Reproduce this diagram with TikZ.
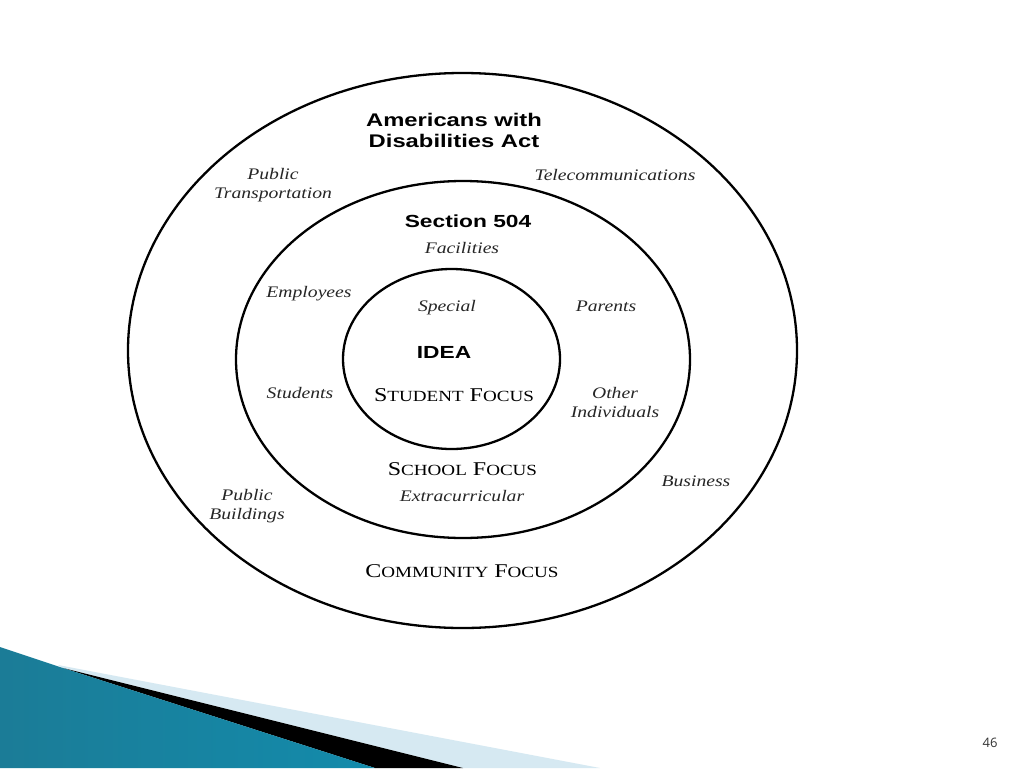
\documentclass[tikz,border=0pt]{standalone}
\usepackage{fontspec}
\usepackage{tikz}
\usetikzlibrary{shapes,positioning}
\newfontfamily\headfont[FakeStretch=1.3]{Liberation Sans}
\newfontfamily\itemfont[FakeStretch=1.22]{Liberation Serif}
\newfontfamily\focusfont[FakeStretch=1.23]{Liberation Serif}
\newfontfamily\pagefont{Open Sans}
\newcommand{\smallcap}[1]{{\fontsize{15.5}{20}\selectfont #1}}
\definecolor{tealdark}{HTML}{1B7C97}
\definecolor{teallight}{HTML}{42ACCB}
\definecolor{tealright}{HTML}{138BAB}
\definecolor{swoosh}{HTML}{D6E9F2}
\tikzstyle{ring} = [ellipse, draw, line width=2.3pt, inner sep=0pt]
\tikzstyle{law} = [font=\headfont\bfseries\fontsize{17.5}{21}\selectfont,
    align=center, anchor=base, inner sep=0pt]
\tikzstyle{group} = [font=\itemfont\itshape\fontsize{16.1}{19}\selectfont,
    text=black!85, align=center, anchor=base, inner sep=0pt]
\tikzstyle{focus} = [font=\focusfont\fontsize{19.5}{20}\selectfont,
    anchor=base, inner sep=0pt]
\begin{document}
\begin{tikzpicture}[x=1pt, y=-1pt]
  \useasboundingbox (0,0) rectangle (1024,768);
  \fill[white] (0,0) rectangle (1024,768);
  % Slide corner
  \fill[swoosh] (58,665) -- (600,768) -- (463,768) -- (63,668) -- cycle;
  \fill[black] (63,668) -- (463,768) -- (375,768) -- cycle;
  \shade[left color=tealdark, middle color=teallight, right color=tealright]
    (0,647) -- (63,668) -- (375,768) -- (0,768) -- cycle;
  % Place rings
  \node [ring, minimum width=669, minimum height=555] (adaring) at (462.5,350.5) {};
  \node [ring, minimum width=454, minimum height=357] (secring) at (463,359.5) {};
  \node [ring, minimum width=217, minimum height=180] (idearing) at (451.5,359) {};
  % Outer ring
  \node [law, font=\headfont\bfseries\fontsize{18.3}{21}\selectfont] (ada)
    at (454,147) {Americans with\\Disabilities Act};
  \node [group] (transport) at (273,198) {Public\\Transportation};
  \node [group] (telecom) at (615,180) {Telecommunications};
  \node [group] (buildings) at (247,519) {Public\\Buildings};
  \node [group] (business) at (696,486) {Business};
  \node [focus] (communityfocus) at (462,577) {C\smallcap{OMMUNITY} F\smallcap{OCUS}};
  % Middle ring
  \node [law] (sec) at (468,227) {Section 504};
  \node [group] (facilities) at (462,253) {Facilities};
  \node [group] (employees) at (309,297) {Employees};
  \node [group] (parents) at (606,311) {Parents};
  \node [group] (students) at (300,398) {Students};
  \node [group] (others) at (615,417) {Other\\Individuals};
  \node [focus] (schoolfocus) at (462.5,475) {S\smallcap{CHOOL} F\smallcap{OCUS}};
  \node [group] (extra) at (462,501) {Extracurricular};
  % Inner ring
  \node [group] (special) at (447,311) {Special};
  \node [law] (idea) at (444,358) {IDEA};
  \node [focus] (studentfocus) at (454,401) {S\smallcap{TUDENT} F\smallcap{OCUS}};
  % Page number
  \node [font=\pagefont\fontsize{13}{13}\selectfont, text=black!80] (pagenum)
    at (990,743) {46};
\end{tikzpicture}
\end{document}
